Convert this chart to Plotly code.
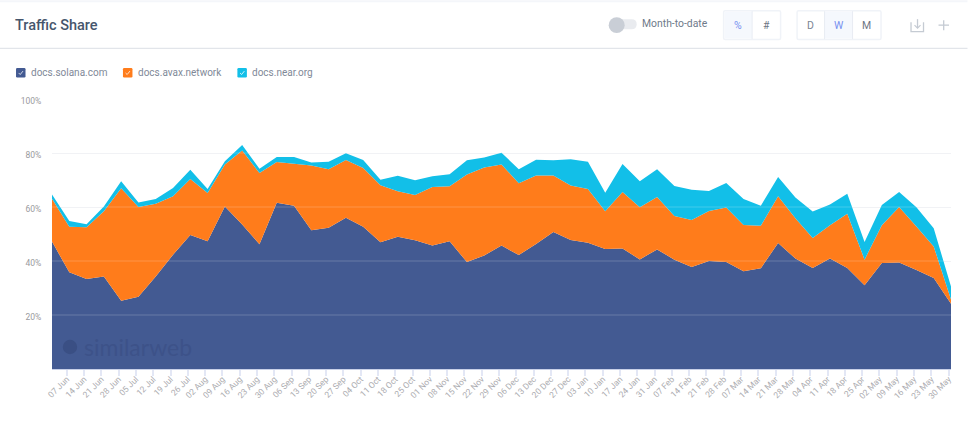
import pandas as pd
import plotly.graph_objects as go

series_names = ["docs.solana.com", "docs.avax.network", "docs.near.org"]
series_colors = ["#435a92", "#ff7c1b", "#12bfe8"]

solana = [47.2, 35.8, 33.3, 34.3, 25.3, 26.8, 34.3, 42.3, 49.6, 47.3, 60.2, 53.5, 46.2, 61.6, 60.5, 51.4, 52.3, 56.0,
          52.7, 46.9, 49.0, 47.7, 45.7, 47.3, 39.6, 42.0, 45.7, 42.2, 46.3, 50.7, 47.8, 46.8, 44.4, 44.6, 40.6,
          44.3, 40.5, 37.8, 40.0, 39.6, 36.2, 37.3, 46.7, 40.9, 37.4, 40.9, 37.4, 31.0, 39.3, 39.4, 36.7, 33.7, 24.2]
avax = [15.9, 16.9, 19.2, 24.1, 41.6, 33.2, 26.9, 21.7, 20.8, 17.9, 15.5, 27.4, 26.4, 15.1, 15.5, 24.0, 21.7, 21.4,
        21.7, 21.2, 16.8, 16.7, 21.7, 20.4, 32.4, 32.6, 30.0, 26.6, 25.4, 21.0, 20.2, 19.9, 14.0, 21.0, 19.3,
        19.4, 16.2, 17.4, 18.5, 20.2, 17.1, 15.8, 17.3, 14.9, 11.1, 12.3, 20.1, 9.5, 13.9, 20.6, 16.1, 11.7, 1.5]
near = [1.5, 2.1, 1.1, 1.8, 2.6, 1.7, 1.8, 3.0, 3.4, 1.5, 1.2, 2.1, 1.6, 1.8, 2.5, 1.1, 2.8, 2.5,
        3.0, 2.0, 5.8, 5.5, 4.0, 4.4, 5.3, 3.7, 4.4, 5.2, 5.8, 5.6, 9.7, 10.1, 6.9, 10.3, 9.6,
        10.3, 11.1, 11.2, 7.4, 9.1, 9.7, 7.4, 7.1, 7.7, 9.8, 7.7, 7.4, 6.5, 7.5, 5.6, 7.1, 6.7, 4.9]

tick_labels = ["07 Jun", "14 Jun", "21 Jun", "28 Jun", "05 Jul", "12 Jul", "19 Jul", "26 Jul", "02 Aug", "09 Aug",
               "16 Aug", "23 Aug", "30 Aug", "06 Sep", "13 Sep", "20 Sep", "27 Sep", "04 Oct", "11 Oct", "18 Oct",
               "25 Oct", "01 Nov", "08 Nov", "15 Nov", "22 Nov", "29 Nov", "06 Dec", "13 Dec", "20 Dec", "27 Dec",
               "03 Jan", "10 Jan", "17 Jan", "24 Jan", "31 Jan", "07 Feb", "14 Feb", "21 Feb", "28 Feb", "07 Mar",
               "14 Mar", "21 Mar", "28 Mar", "04 Apr", "11 Apr", "18 Apr", "25 Apr", "02 May", "09 May", "16 May",
               "23 May", "30 May"]
y_ticks = [20, 40, 60, 80, 100]

dates = pd.date_range("2021-06-01", "2022-05-31", freq="7D")
tick_dates = pd.date_range("2021-06-07", "2022-05-30", freq="7D")

W, H = 968, 425
L, R, T, B = 52.0, 951.5, 99.0, 369.5
FONT = "Roboto"


def px(x):
    return (x - L) / (R - L)


def py(y):
    return (B - y) / (B - T)


fig = go.Figure()
for name, vals, color in zip(series_names, [solana, avax, near], series_colors):
    fig.add_trace(go.Scatter(x=dates, y=vals, name=name, stackgroup="one", mode="lines",
                             line=dict(width=0, color=color), fillcolor=color, hoverinfo="skip"))

shapes = []
annotations = []


def rrect(x0, y0, x1, y1, r, fill, line=None, lw=0):
    d = (f"M {px(x0 + r)} {py(y0)} L {px(x1 - r)} {py(y0)} Q {px(x1)} {py(y0)} {px(x1)} {py(y0 + r)} "
         f"L {px(x1)} {py(y1 - r)} Q {px(x1)} {py(y1)} {px(x1 - r)} {py(y1)} "
         f"L {px(x0 + r)} {py(y1)} Q {px(x0)} {py(y1)} {px(x0)} {py(y1 - r)} "
         f"L {px(x0)} {py(y0 + r)} Q {px(x0)} {py(y0)} {px(x0 + r)} {py(y0)} Z")
    shapes.append(dict(type="path", xref="paper", yref="paper", path=d, fillcolor=fill,
                       line=dict(color=line or fill, width=lw), layer="above"))


def seg(points, color, lw=1.0):
    d = "M " + " L ".join(f"{px(a)} {py(b)}" for a, b in points)
    shapes.append(dict(type="path", xref="paper", yref="paper", path=d,
                       line=dict(color=color, width=lw), layer="above"))


def circle(cx, cy, r, fill):
    shapes.append(dict(type="circle", xref="paper", yref="paper", x0=px(cx - r), x1=px(cx + r),
                       y0=py(cy + r), y1=py(cy - r), fillcolor=fill, line=dict(width=0), layer="above"))


def text(x, y, s, size, color, anchor="left", family=FONT, weight=None):
    font = dict(family=family, size=size, color=color)
    if weight:
        font["weight"] = weight
    annotations.append(dict(text=s, x=px(x), y=py(y), xref="paper", yref="paper", showarrow=False,
                            xanchor=anchor, yanchor="middle", borderpad=0,
                            xshift=-1 if anchor == "left" else 0, font=font))


# gridlines showing through the areas
for v in y_ticks[:-1]:
    shapes.append(dict(type="line", xref="paper", yref="y", x0=0, x1=1, y0=v, y1=v,
                       line=dict(color="rgba(255,255,255,0.2)", width=1), layer="above"))

# page header
shapes.append(dict(type="rect", xref="paper", yref="paper", x0=px(0), x1=px(W), y0=py(0), y1=py(2),
                   fillcolor="#f4f6fa", line=dict(width=0), layer="above"))
seg([(0, 48.3), (W, 48.3)], "#e2e5ea", 1.2)
text(15, 25, "Traffic Share", 14.5, "#46566c", weight=500)

# toggle
rrect(612, 19, 637, 29, 5, "#e9ebef")
circle(617, 25, 8, "#c9ced6")
text(642, 23, "Month-to-date", 10.4, "#6f7a8a")

# % / # buttons
rrect(724, 10.5, 781, 39.5, 1.5, "#ffffff", "#f0f3f8", 1.5)
rrect(725, 11.5, 752.5, 38.5, 0.5, "#f5f8fd")
seg([(752.5, 11), (752.5, 39)], "#e8ecf3", 1)
text(738, 25, "%", 10.5, "#7590f0", "center")
text(767, 25, "#", 10.5, "#6e7684", "center")

# D / W / M buttons
rrect(797.5, 10.5, 881.5, 39.5, 1.5, "#ffffff", "#f0f3f8", 1.5)
rrect(825, 11.5, 853, 38.5, 0.5, "#f5f8fd")
seg([(825, 11), (825, 39)], "#e8ecf3", 1)
seg([(853, 11), (853, 39)], "#e8ecf3", 1)
text(811, 25, "D", 10.5, "#7b8594", "center")
text(839, 25, "W", 10.5, "#7590f0", "center")
text(867, 25, "M", 10.5, "#6e7684", "center")

# download and plus icons
seg([(911.5, 22), (911.5, 31.5), (924, 31.5), (924, 22)], "#c5cbd3", 1.3)
seg([(918, 19), (918, 28)], "#c5cbd3", 1.3)
seg([(915, 25), (918, 28), (921, 25)], "#c5cbd3", 1.2)
seg([(939, 25), (949.5, 25)], "#c5cbd3", 1.3)
seg([(944.2, 20), (944.2, 30)], "#c5cbd3", 1.3)

# legend
for name, color, sx, tx in zip(series_names, series_colors, [16, 123, 237.5], [30.5, 138, 252]):
    rrect(sx, 68, sx + 9.5, 77.5, 1.2, color)
    seg([(sx + 2.6, 72.9), (sx + 4.2, 74.5), (sx + 7, 71)], "rgba(255,255,255,0.75)", 1)
    text(tx, 72.3, name, 10, "#7f8998")

# watermark
circle(70, 347.5, 7.2, "#3a4f84")
text(84, 347, "similarweb", 23, "#3d5289", family="Lato")

fig.update_layout(
    width=W, height=H, autosize=False,
    margin=dict(l=L, r=W - R, t=T, b=H - B, pad=0),
    paper_bgcolor="#ffffff", plot_bgcolor="#ffffff",
    showlegend=False, shapes=shapes, annotations=annotations,
    font=dict(family=FONT),
    xaxis=dict(type="date", range=[dates[0], dates[-1]], tickmode="array", tickvals=tick_dates, ticktext=tick_labels,
               tickangle=-45, tickfont=dict(size=8.5, color="#acacb0"), ticks="outside", ticklen=6, tickwidth=2,
               tickcolor="#e3e7f5", showgrid=False, showline=True, linecolor="#c8d0e8", linewidth=1, zeroline=False,
               ticklabelstandoff=-5),
    yaxis=dict(range=[0, 100], tickmode="array", tickvals=y_ticks, ticktext=[f"{v}%" for v in y_ticks],
               tickfont=dict(size=8.5, color="#9a9a9e"), ticks="outside", ticklen=8, tickcolor="rgba(0,0,0,0)",
               gridcolor="#f0f1f4", gridwidth=1, showline=False, zeroline=False, ticklabelshift=2),
)

fig.write_html("out.html", config={"displayModeBar": False},
               post_script="document.body.style.margin='0';document.body.style.overflow='hidden';")
